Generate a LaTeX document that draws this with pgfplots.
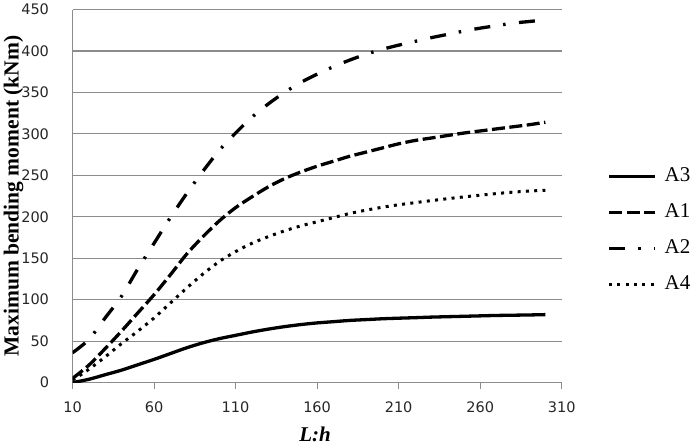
\documentclass[border=0pt]{standalone}
\usepackage{fontspec}
\setmainfont{Liberation Serif}
\newfontfamily\tickfont{DejaVu Sans}
\usepackage{pgfplots}
\pgfplotsset{compat=1.18}
\definecolor{gridgray}{RGB}{140,140,140}
\begin{document}
\begin{tikzpicture}
\begin{axis}[
  scale only axis,
  width=489pt, height=373pt,
  xmin=10, xmax=310, ymin=0, ymax=450,
  xtick={10,60,...,310}, ytick={0,50,...,450},
  axis lines*=left,
  axis line style={gridgray, line width=1.2pt},
  ymajorgrids, grid style={gridgray, line width=1.2pt},
  tick align=outside,
  major tick length=6pt,
  xtick style={gridgray, line width=1pt},
  ytick style={draw=none},
  /pgf/number format/assume math mode=true,
  ticklabel style={font=\tickfont\fontsize{14.5}{14.5}\selectfont, text=black!85},
  yticklabel style={xshift=-14pt},
  xticklabel style={yshift=-10pt},
  ylabel={\textbf{Maximum bending moment (kNm)}},
  ylabel style={at={(axis description cs:-0.1205,0.5)}, anchor=center, inner sep=0pt, font=\fontsize{21.5}{21.5}\selectfont},
  xlabel={\textbf{\textit{L:h}}},
  xlabel style={at={(axis description cs:0.496,-0.140)}, anchor=center, font=\fontsize{21}{21}\selectfont},
  legend style={at={(axis description cs:1.087,0.407)}, anchor=west, draw=none, fill=none,
    font=\fontsize{21}{21}\selectfont, row sep=18pt,
    nodes={inner sep=0pt, text height=14pt, text depth=4pt}},
  legend cell align=left,
  /tikz/every odd column/.append style={column sep=8pt},
  legend image code/.code={\draw[#1] (0pt,0pt) -- (46pt,0pt);},
  every axis plot/.append style={black, line width=3.3pt, smooth},
]
\coordinate (sw) at (rel axis cs:0,0);
\coordinate (ne) at (rel axis cs:1,1);
% A3 solid
\addplot[solid] coordinates {
(10,0) (20,4) (30,9.5) (40,15) (50,21.5) (60,28) (70,35) (80,42) (90,48) (100,53)
(110,57) (120,61) (130,64.5) (140,67.5) (150,70) (160,72) (170,73.5) (180,75) (190,76)
(200,77) (210,77.7) (220,78.3) (230,79) (240,79.5) (250,80) (260,80.5) (270,81) (280,81.3)
(290,81.6) (300,82)};
\addlegendentry{A3}
% A1 dashed
\addplot[dash pattern=on 13pt off 4.5pt] coordinates {
(10,5) (20,21) (30,41) (40,62) (50,84) (60,106) (70,130) (80,155) (90,176) (100,195)
(110,211) (120,224) (130,236) (140,246) (150,254) (160,261) (170,267) (180,273) (190,278)
(200,283) (210,288) (220,292) (230,295) (240,298) (250,301) (260,303.5) (270,306) (280,308.5)
(290,311) (300,314)};
\addlegendentry{A1}
% A2 dash-dot
\addplot[dash pattern=on 16pt off 13pt on 2.5pt off 13.5pt] coordinates {
(10,36) (20,52) (30,78) (40,104) (50,137) (60,168) (70,199) (80,228) (90,255) (100,280)
(110,301) (120,320) (130,336) (140,350) (150,362) (160,372) (170,381) (180,389) (190,396)
(200,402) (210,407) (220,411.5) (230,416) (240,420) (250,424) (260,427.5) (270,430.5) (280,433.5)
(290,435.5) (300,437.5)};
\addlegendentry{A2}
% A4 dotted
\addplot[line width=3pt, dash pattern=on 3pt off 5.3pt] coordinates {
(10,3) (20,16) (30,31) (40,47) (50,62) (60,78) (70,96) (80,114) (90,131) (100,146)
(110,158) (120,168) (130,176) (140,183) (150,189) (160,194) (170,199) (180,204) (190,208)
(200,211.5) (210,214.5) (220,217) (230,219.5) (240,221.8) (250,224) (260,226) (270,228) (280,229.7)
(290,231) (300,232)};
\addlegendentry{A4}
\end{axis}
\pgfresetboundingbox
\path ([shift={(-72.5pt,-65.3pt)}]sw) rectangle ([shift={(135.3pt,9.5pt)}]ne);
\end{tikzpicture}
\end{document}
